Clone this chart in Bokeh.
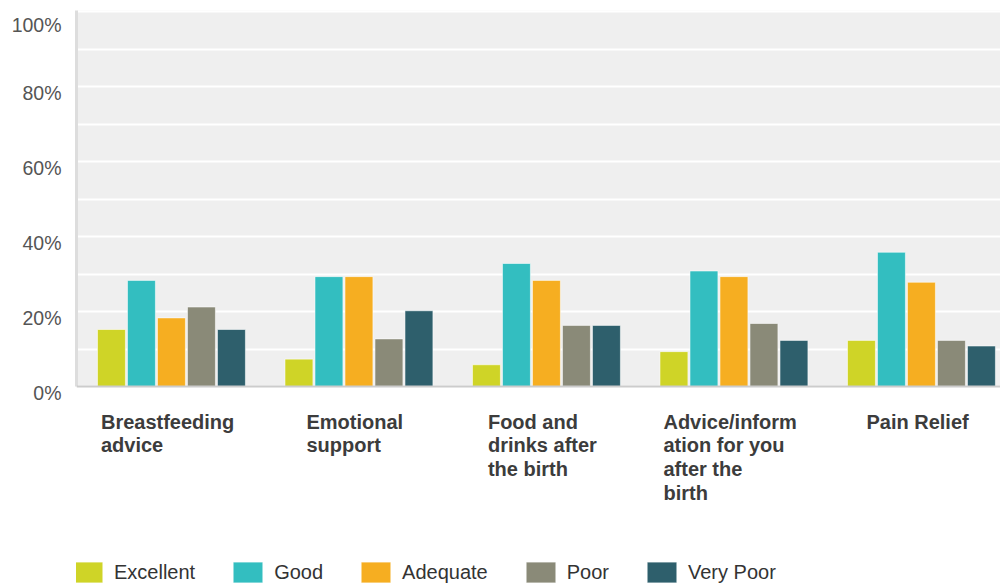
from bokeh.plotting import figure
from bokeh.models import (ColumnDataSource, FixedTicker, LabelSet, Legend, LegendItem,
                          Range1d, CustomJSTickFormatter, BoxAnnotation, Span)
from bokeh.core.properties import value
from bokeh.embed import file_html
from bokeh.resources import INLINE

# ---------------- data ----------------
categories = ["Breastfeeding\nadvice", "Emotional\nsupport", "Food and\ndrinks after\nthe birth",
              "Advice/inform\nation for you\nafter the\nbirth", "Pain Relief"]
series = ["Excellent", "Good", "Adequate", "Poor", "Very Poor"]
excellent = [15.2, 7.3, 5.8, 9.3, 12.3]
good = [28.3, 29.3, 32.8, 30.8, 35.8]
adequate = [18.3, 29.3, 28.3, 29.3, 27.8]
poor = [21.2, 12.7, 16.3, 16.8, 12.3]
very_poor = [15.2, 20.2, 16.3, 12.3, 10.8]
y_ticks = [0, 20, 40, 60, 80, 100]
y_minor = [10, 30, 50, 70, 90]

# ---------------- style ----------------
colors = ["#cfd427", "#33bec0", "#f6ae21", "#8a8a78", "#2e5f6c"]
label_block_w = [133, 97, 109, 133, 102]   # px, width of each wrapped category label
FONT = "Liberation Sans"

W, H = 1000, 586
frame_left, frame_top = 76, 10
zero_px = 386                 # screen y of 0%
px_per_pct = 3.75
px_per_unit = 187.5
x0_px = 1.2                   # px from frame left to category 0 start
x_start = -x0_px / px_per_unit
x_end = x_start + (W - frame_left) / px_per_unit
y_top = (zero_px - frame_top) / px_per_pct
y_bottom = -(H - zero_px) / px_per_pct

p = figure(width=W, height=H, output_backend="svg", toolbar_location=None,
           x_range=Range1d(x_start, x_end), y_range=Range1d(y_bottom, y_top),
           min_border_left=frame_left, min_border_right=0, min_border_top=frame_top,
           min_border_bottom=0)
p.background_fill_color = "white"
p.border_fill_color = "white"
p.outline_line_color = None

# grey plotting area (0 .. top)
p.add_layout(BoxAnnotation(bottom=0, fill_color="#efefef", fill_alpha=1,
                           line_color=None, level="image"))

all_series = [excellent, good, adequate, poor, very_poor]
step = 0.16
bw = 0.149
items = []
for k, (name, vals, col) in enumerate(zip(series, all_series, colors)):
    xs = [i + 0.5 + (k - 2) * step for i in range(len(categories))]
    src = ColumnDataSource(dict(x=xs, top=vals))
    r = p.vbar(x="x", top="top", width=bw, bottom=0, source=src, fill_color=col,
               line_color="white", line_alpha=0.55, line_width=1)
    items.append(LegendItem(label=name, renderers=[r]))

# y axis
p.yaxis.ticker = FixedTicker(ticks=y_ticks, minor_ticks=y_minor)
p.yaxis.formatter = CustomJSTickFormatter(code="return '\\n' + tick.toFixed(0) + '%';")
p.yaxis.major_label_text_font = FONT
p.yaxis.major_label_text_font_size = "19.5px"
p.yaxis.major_label_text_line_height = 0.6
p.yaxis.major_label_text_color = "#555555"
p.yaxis.major_label_standoff = 15
p.yaxis.major_tick_out = 0
p.yaxis.major_tick_in = 0
p.yaxis.minor_tick_out = 0
p.yaxis.minor_tick_in = 0
p.yaxis.axis_line_color = "#dddddd"
p.yaxis.axis_line_width = 3
p.yaxis.bounds = (0, y_top)

p.xaxis.visible = False
p.add_layout(Span(location=0, dimension="width", line_color="#cccccc", line_width=2))

p.xgrid.grid_line_color = None
p.ygrid.grid_line_color = "white"
p.ygrid.grid_line_width = 2
p.ygrid.minor_grid_line_color = "white"
p.ygrid.minor_grid_line_width = 2

# category labels
lab_src = ColumnDataSource(dict(
    x=[i + 0.5 for i in range(len(categories))],
    y=[-24 / px_per_pct] * len(categories),
    text=categories,
    xo=[-w / 2 - 4 for w in label_block_w],
))
labels = LabelSet(x="x", y="y", text="text", x_offset="xo", source=lab_src,
                  text_font=value(FONT), text_font_size="20px", text_font_style="bold",
                  text_color="#3c3c3c", text_align="left", text_baseline="top",
                  text_line_height=1.08)
p.add_layout(labels)

legend = Legend(items=items, orientation="horizontal", location=(-7, 1),
                padding=0, margin=0, spacing=34, label_standoff=8,
                glyph_width=37, glyph_height=26, label_height=26,
                label_text_font=FONT, label_text_font_size="20px", label_text_color="#333333",
                background_fill_alpha=0, border_line_color=None)
p.add_layout(legend)

open("out.html", "w").write(file_html(p, INLINE))
